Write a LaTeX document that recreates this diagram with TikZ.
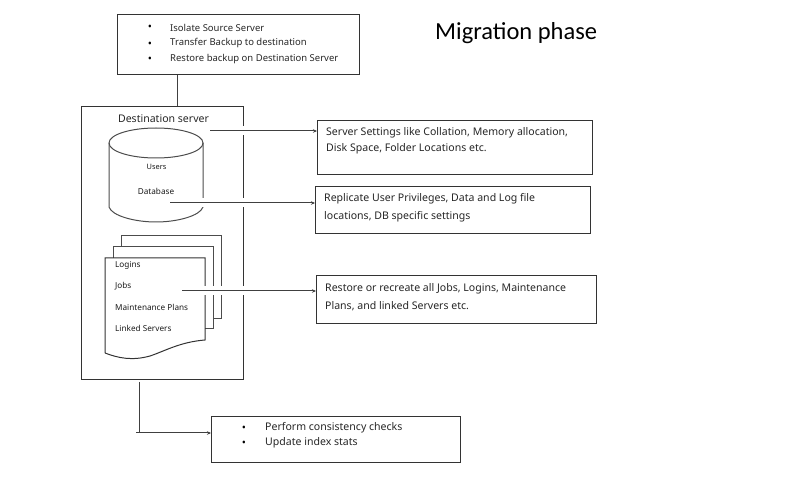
\documentclass[tikz,border=0pt]{standalone}
\usepackage{fontspec}
\setmainfont{Noto Sans}
\newfontfamily\titlefont{Carlito}
\usetikzlibrary{arrows.meta}
\tikzset{
  boxx/.style={draw=black!80,line width=1pt,fill=none,inner sep=0pt,anchor=north west},
  txt/.style={anchor=west,inner sep=0pt,text=black!85,font=\fontsize{10.55}{12}\selectfont},
  txtb/.style={anchor=west,inner sep=0pt,text=black!85,font=\fontsize{9.5}{11}\selectfont},
  small/.style={anchor=west,inner sep=0pt,text=black!90,font=\fontsize{8.2}{10}\selectfont},
  bul/.style={anchor=center,inner sep=0pt,text=black,font=\fontsize{11}{12}\selectfont},
  shapeline/.style={draw=black!70,line width=1pt},
  halo/.style={draw=white,line width=9pt},
  conn/.style={draw=black!75,line width=1pt},
  arr/.style={conn,-{Stealth[length=4pt,width=3.5pt]}},
}
\begin{document}
\begin{tikzpicture}[x=1pt,y=-1pt]
\useasboundingbox (0,0) rectangle (809,502);
% boxes
\node[boxx,minimum width=242pt,minimum height=60pt] (top) at (117,14) {};
\node[boxx,minimum width=162pt,minimum height=273pt] (dest) at (81,106) {};
\node[boxx,minimum width=275pt,minimum height=54pt] (settings) at (317,120) {};
\node[boxx,minimum width=275pt,minimum height=47pt] (privs) at (315,186) {};
\node[boxx,minimum width=280pt,minimum height=48pt] (jobs) at (316,275) {};
\node[boxx,minimum width=249pt,minimum height=46pt] (checks) at (211,416) {};
% cylinder
\draw[shapeline] (109,143) arc[start angle=180,end angle=-180,x radius=47,y radius=15];
\draw[shapeline] (109,143) -- (109,207) .. controls (112,216) and (135,222) .. (156,222)
  .. controls (177,222) and (200,216) .. (203,207) -- (203,143);
% documents
\draw[shapeline] (121,247) -- (121,236) -- (221,236) -- (221,319) -- (213,319);
\draw[shapeline] (113,258) -- (113,247) -- (213,247) -- (213,329) -- (205,329);
\draw[shapeline,draw=black!80] (105,353) -- (105,258) -- (205,258) -- (205,340)
  .. controls (180,342) and (165,351) .. (150,356) .. controls (132,361) and (118,358) .. (105,353);
% connector anchors
\coordinate (a1) at (210,131);
\coordinate (a2) at (170,203);
\coordinate (a3) at (182,291);
\coordinate (b1) at (139,382);
\coordinate (b2) at (139,433);
\coordinate (b3) at (136,433);
% halos and arrows
\draw[halo] (a1) -- (settings.west |- a1);
\draw[halo] (a2) -- (privs.west |- a2);
\draw[halo] (a3) -- (jobs.west |- a3);
\draw[arr] (a1) -- (settings.west |- a1);
\draw[arr] (a2) -- (privs.west |- a2);
\draw[arr] (a3) -- (jobs.west |- a3);
\draw[conn] (top.south -| 177.5,0) -- (dest.north -| 177.5,0);
\draw[conn] (b1) -- (b2);
\draw[arr] (b3) -- (checks.west |- b3);
% top box text
\node[bul] (tb1) at (150,28) {•};
\node[bul] (tb2) at (150,45) {•};
\node[bul] (tb3) at (150,60) {•};
\node[txtb] (t1) at (170,27.5) {Isolate Source Server};
\node[txtb] (t2) at (170,43.5) {Transfer Backup to destination};
\node[txtb] (t3) at (170,59.5) {Restore backup on Destination Server};
% title
\node[anchor=west,inner sep=0pt,font=\titlefont\fontsize{24.5}{28}\selectfont] (title) at (435,33.5) {Migration phase};
% destination text
\node[txt,anchor=center] (dname) at (163.5,118.5) {Destination server};
\node[small,anchor=center,font=\fontsize{7.4}{9}\selectfont] (users) at (156.5,166.5) {Users};
\node[small,anchor=center] (dbase) at (156,191.5) {Database};
\node[small] (logins) at (115,265.5) {Logins};
\node[small] (jobtxt) at (115,286.5) {Jobs};
\node[small] (maint) at (115,307.5) {Maintenance Plans};
\node[small] (linked) at (115,328.5) {Linked Servers};
% right boxes
\node[txt] (s1) at (326,133) {Server Settings like Collation, Memory allocation,};
\node[txt] (s2) at (326,148.5) {Disk Space, Folder Locations etc.};
\node[txt] (p1) at (324,198.5) {Replicate User Privileges, Data and Log file};
\node[txt] (p2) at (324,216.5) {locations, DB specific settings};
\node[txt] (j1) at (325,288.5) {Restore or recreate all Jobs, Logins, Maintenance};
\node[txt] (j2) at (325,306.5) {Plans, and linked Servers etc.};
% bottom
\node[bul] (cb1) at (244,429) {•};
\node[bul] (cb2) at (244,444) {•};
\node[txt] (c1) at (265,427.5) {Perform consistency checks};
\node[txt] (c2) at (265,442.5) {Update index stats};
\end{tikzpicture}
\end{document}
